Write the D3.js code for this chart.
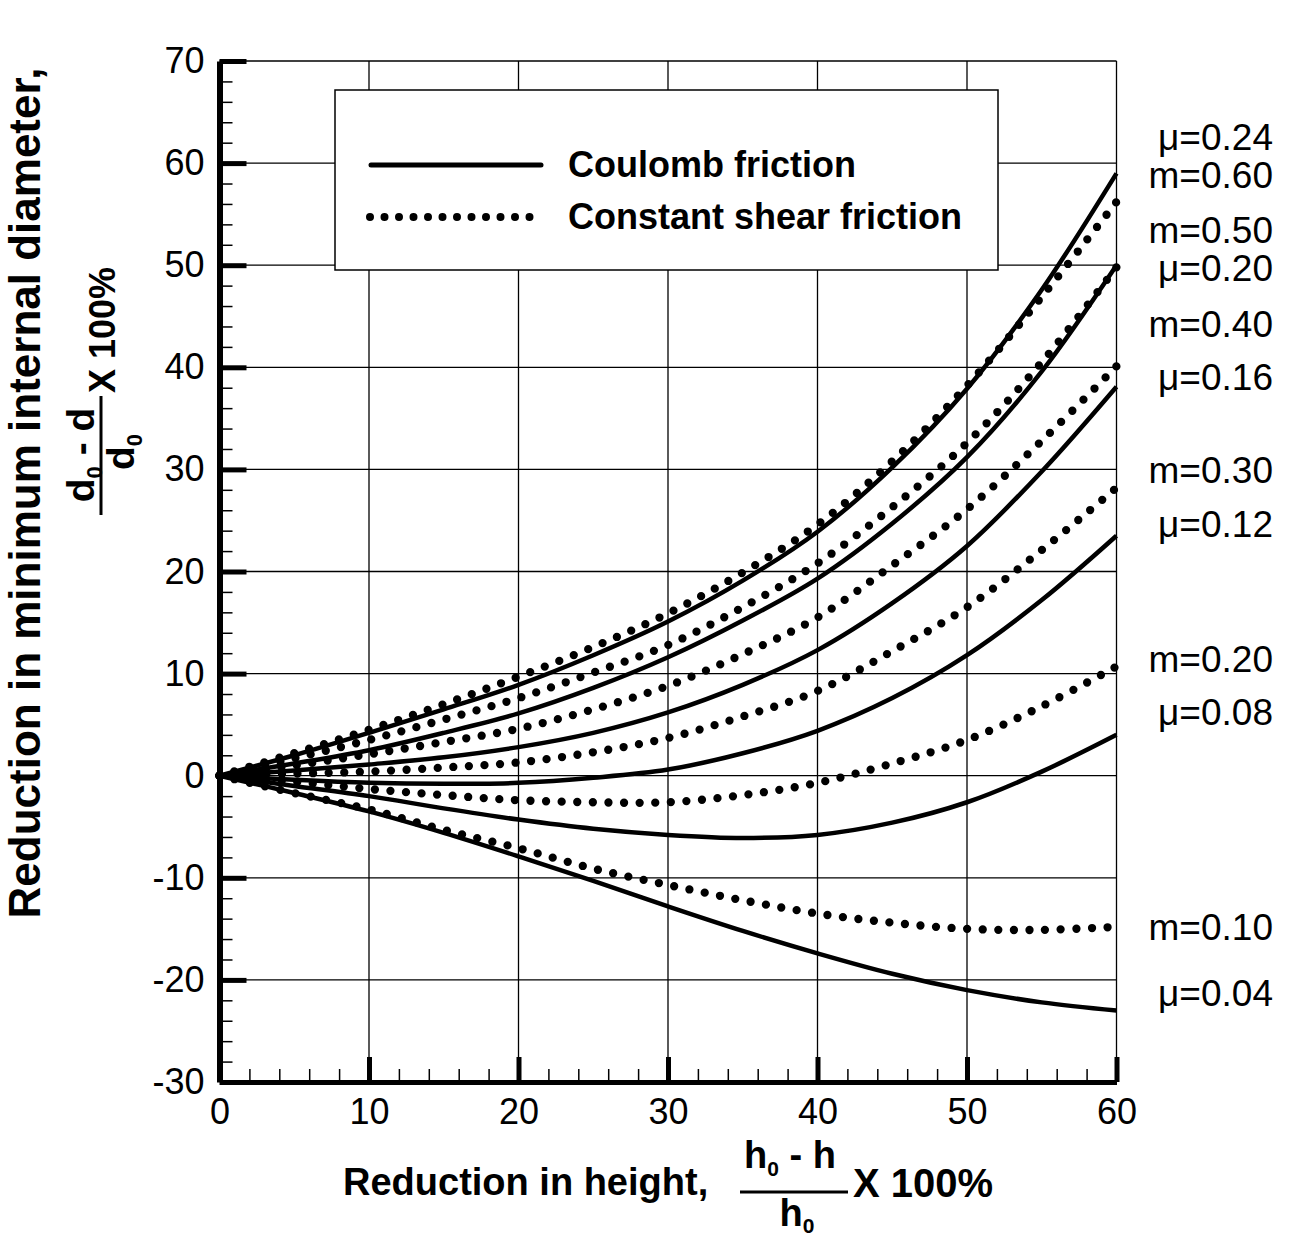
<!DOCTYPE html>
<html>
<head>
<meta charset="utf-8">
<script src="https://cdn.jsdelivr.net/npm/d3@7"></script>
<style>
  body { margin: 0; background: #fff; }
  text { font-family: 'Liberation Sans', Arial, sans-serif; fill: #000; }
</style>
</head>
<body>
<div id="plot"></div>
<script>
// friction curves: reduction in height vs reduction in min. internal diameter
var w = 1300;
var h = 1241;

// Data
var heightRed = [0, 5, 10, 15, 20, 25, 30, 35, 40, 45, 50, 55, 60];

var coulombNames = ['μ=0.04', 'μ=0.08', 'μ=0.12', 'μ=0.16', 'μ=0.20', 'μ=0.24'];
var mu004 = [0, -1.7, -3.5, -5.6, -7.9, -10.3, -12.8, -15.2, -17.4, -19.4, -21.0, -22.2, -23.0];
var mu008 = [0, -1.0, -2.0, -3.2, -4.3, -5.2, -5.8, -6.1, -5.8, -4.6, -2.6, 0.4, 4.0];
var mu012 = [0, -0.4, -0.7, -0.8, -0.7, -0.2, 0.6, 2.2, 4.4, 7.6, 11.8, 17.2, 23.5];
var mu016 = [0, 0.5, 1.1, 1.8, 2.8, 4.2, 6.2, 8.9, 12.3, 16.9, 22.5, 29.8, 38.1];
var mu020 = [0, 1.2, 2.5, 4.2, 6.1, 8.6, 11.6, 15.2, 19.3, 24.7, 31.2, 39.6, 50.0];
var mu024 = [0, 2.0, 4.2, 6.5, 8.9, 11.8, 15.1, 19.1, 23.9, 30.2, 37.9, 47.6, 59.0];

var shearNames = ['m=0.10', 'm=0.20', 'm=0.30', 'm=0.40', 'm=0.50', 'm=0.60'];
var m010 = [0, -1.7, -3.3, -5.3, -7.1, -9.1, -10.7, -12.2, -13.5, -14.4, -15.0, -15.1, -14.8];
var m020 = [0, -0.6, -1.3, -1.9, -2.4, -2.6, -2.6, -1.9, -0.7, 1.2, 3.5, 6.8, 10.7];
var m030 = [0, 0.2, 0.4, 0.8, 1.3, 2.3, 3.7, 5.8, 8.3, 12.2, 16.5, 22.1, 28.2];
var m040 = [0, 1.0, 2.1, 3.3, 4.6, 6.5, 8.8, 11.9, 15.5, 20.6, 26.1, 32.8, 40.1];
var m050 = [0, 1.7, 3.5, 5.5, 7.6, 10.1, 12.8, 16.5, 20.8, 26.3, 32.6, 40.5, 49.8];
var m060 = [0, 2.2, 4.5, 7.0, 9.7, 12.6, 15.9, 19.9, 24.6, 30.8, 38.2, 46.9, 56.2];

var xTicks = [0, 10, 20, 30, 40, 50, 60];
var yTicks = [-30, -20, -10, 0, 10, 20, 30, 40, 50, 60, 70];
var legendLabels = ['Coulomb friction', 'Constant shear friction'];

// right side label order, top to bottom
var sideLabels = ['μ=0.24', 'm=0.60', 'm=0.50', 'μ=0.20', 'm=0.40', 'μ=0.16',
                  'm=0.30', 'μ=0.12', 'm=0.20', 'μ=0.08', 'm=0.10', 'μ=0.04'];

// ---- layout
var x = d3.scaleLinear().domain([0, 60]).range([219.5, 1116.5]);
var y = d3.scaleLinear().domain([-30, 70]).range([1082, 61]);
// baseline (in y units) of each side label
var sideLabelPos = [61.3, 57.6, 52.2, 48.5, 43.0, 37.8, 28.7, 23.4, 10.2, 5.0, -16.1, -22.6];

var svg = d3.select('#plot').append('svg')
  .attr('width', w)
  .attr('height', h);

svg.append('rect').attr('width', w).attr('height', h).attr('fill', '#fff');

// grid
var grid = svg.append('g');
grid.selectAll('.vg')
  .data(xTicks.slice(1))
  .enter()
  .append('line')
  .attr('x1', function (d) { return x(d); })
  .attr('x2', function (d) { return x(d); })
  .attr('y1', y(70))
  .attr('y2', y(-30))
  .attr('stroke', '#000')
  .attr('stroke-width', 1.3);
grid.selectAll('.hg')
  .data(yTicks.slice(1))
  .enter()
  .append('line')
  .attr('x1', x(0))
  .attr('x2', x(60))
  .attr('y1', function (d) { return y(d); })
  .attr('y2', function (d) { return y(d); })
  .attr('stroke', '#000')
  .attr('stroke-width', 1.3);

// minor ticks every 2 units
var minorX = d3.range(0, 61, 2).filter(function (d) { return d % 10 != 0; });
var minorY = d3.range(-30, 71, 2).filter(function (d) { return d % 10 != 0; });

svg.append('g')
  .attr('transform', 'translate(0,' + y(-30) + ')')
  .call(d3.axisBottom(x).tickValues(minorX).tickSize(-13).tickFormat(''))
  .call(function (g) { g.select('.domain').remove(); })
  .selectAll('line').attr('stroke-width', 1.5);

svg.append('g')
  .attr('transform', 'translate(' + x(0) + ',0)')
  .call(d3.axisLeft(y).tickValues(minorY).tickSize(-13).tickFormat(''))
  .call(function (g) { g.select('.domain').remove(); })
  .selectAll('line').attr('stroke-width', 1.5);

// plain hyphen minus like the original
function fmt (d) { return String(d); }

// major axes
var xAxis = svg.append('g')
  .attr('transform', 'translate(0,' + y(-30) + ')')
  .call(d3.axisBottom(x).tickValues(xTicks).tickSize(-25).tickSizeOuter(0).tickFormat(fmt));
xAxis.select('.domain').attr('stroke-width', 5);
xAxis.selectAll('.tick line').attr('stroke-width', 5);
xAxis.selectAll('text')
  .attr('font-size', '36px')
  .attr('dy', '0.71em')
  .attr('y', 16);

var yAxis = svg.append('g')
  .attr('transform', 'translate(' + x(0) + ',0)')
  .call(d3.axisLeft(y).tickValues(yTicks).tickSize(-27).tickSizeOuter(0).tickPadding(15).tickFormat(fmt));
yAxis.select('.domain').attr('stroke-width', 6);
yAxis.selectAll('.tick line').attr('stroke-width', 5);
yAxis.selectAll('text').attr('font-size', '36px');

// curves
var line = d3.line()
  .x(function (d) { return x(d[0]); })
  .y(function (d) { return y(d[1]); })
  .curve(d3.curveCatmullRom.alpha(0.5));

var coulomb = [mu004, mu008, mu012, mu016, mu020, mu024];
var shear = [m010, m020, m030, m040, m050, m060];

function pts (vals) {
  return heightRed.map(function (v, i) { return [v, vals[i]]; });
}

svg.append('g').selectAll('path')
  .data(coulomb)
  .enter()
  .append('path')
  .attr('d', function (d) { return line(pts(d)); })
  .attr('fill', 'none')
  .attr('stroke', '#000')
  .attr('stroke-width', 4.5);

svg.append('g').selectAll('path')
  .data(shear)
  .enter()
  .append('path')
  .attr('d', function (d) { return line(pts(d)); })
  .attr('fill', 'none')
  .attr('stroke', '#000')
  .attr('stroke-width', 8.3)
  .attr('stroke-linecap', 'round')
  .attr('stroke-dasharray', '0 15.6');

// side labels
svg.append('g').selectAll('text')
  .data(sideLabels)
  .enter()
  .append('text')
  .text(function (d) { return d; })
  .attr('x', 1273)
  .attr('y', function (d, i) { return y(sideLabelPos[i]); })
  .attr('font-size', '37px')
  .attr('text-anchor', 'end');

// legend
var lg = svg.append('g');
lg.append('rect')
  .attr('x', 335).attr('y', 90)
  .attr('width', 663).attr('height', 180)
  .attr('fill', '#fff')
  .attr('stroke', '#000')
  .attr('stroke-width', 1.5);
lg.append('line')
  .attr('x1', 371).attr('x2', 541)
  .attr('y1', 165).attr('y2', 165)
  .attr('stroke', '#000')
  .attr('stroke-width', 5)
  .attr('stroke-linecap', 'round');
lg.append('line')
  .attr('x1', 370).attr('x2', 530)
  .attr('y1', 217).attr('y2', 217)
  .attr('stroke', '#000')
  .attr('stroke-width', 8)
  .attr('stroke-linecap', 'round')
  .attr('stroke-dasharray', '0 14.5');
lg.selectAll('text')
  .data(legendLabels)
  .enter()
  .append('text')
  .text(function (d) { return d; })
  .attr('x', 568)
  .attr('y', function (d, i) { return 177 + i * 52; })
  .attr('font-size', '36px')
  .attr('font-weight', 'bold');

// x axis title
var xt = svg.append('g');
xt.append('text')
  .text('Reduction in height,')
  .attr('x', 343).attr('y', 1195)
  .attr('font-size', '38px')
  .attr('font-weight', 'bold');
var xn = xt.append('text')
  .attr('x', 790).attr('y', 1168)
  .attr('text-anchor', 'middle')
  .attr('font-size', '38px')
  .attr('font-weight', 'bold');
xn.append('tspan').text('h');
xn.append('tspan').text('0').attr('font-size', '21px').attr('dy', 8);
xn.append('tspan').text(' - h').attr('dy', -8);
xt.append('line')
  .attr('x1', 740).attr('x2', 848)
  .attr('y1', 1192).attr('y2', 1192)
  .attr('stroke', '#000').attr('stroke-width', 3);
var xd = xt.append('text')
  .attr('x', 797).attr('y', 1226)
  .attr('text-anchor', 'middle')
  .attr('font-size', '38px')
  .attr('font-weight', 'bold');
xd.append('tspan').text('h');
xd.append('tspan').text('0').attr('font-size', '21px').attr('dy', 7);
xt.append('text')
  .text('X 100%')
  .attr('x', 853).attr('y', 1197)
  .attr('font-size', '40px')
  .attr('font-weight', 'bold');

// y axis title (rotated)
var yt = svg.append('g').attr('transform', 'rotate(-90)');
yt.append('text')
  .text('Reduction in minimum internal diameter,')
  .attr('x', -493).attr('y', 40)
  .attr('text-anchor', 'middle')
  .attr('font-size', '44px')
  .attr('font-weight', 'bold');
var yn = yt.append('text')
  .attr('x', -455).attr('y', 94)
  .attr('text-anchor', 'middle')
  .attr('font-size', '39px')
  .attr('font-weight', 'bold');
yn.append('tspan').text('d');
yn.append('tspan').text('0').attr('font-size', '22px').attr('dy', 8);
yn.append('tspan').text(' - d').attr('dy', -8);
yt.append('line')
  .attr('x1', -515).attr('x2', -396)
  .attr('y1', 101).attr('y2', 101)
  .attr('stroke', '#000').attr('stroke-width', 3);
var yd = yt.append('text')
  .attr('x', -452).attr('y', 134)
  .attr('text-anchor', 'middle')
  .attr('font-size', '39px')
  .attr('font-weight', 'bold');
yd.append('tspan').text('d');
yd.append('tspan').text('0').attr('font-size', '22px').attr('dy', 8);
yt.append('text')
  .text('X 100%')
  .attr('x', -393).attr('y', 115)
  .attr('font-size', '36px')
  .attr('font-weight', 'bold');
</script>
</body>
</html>
